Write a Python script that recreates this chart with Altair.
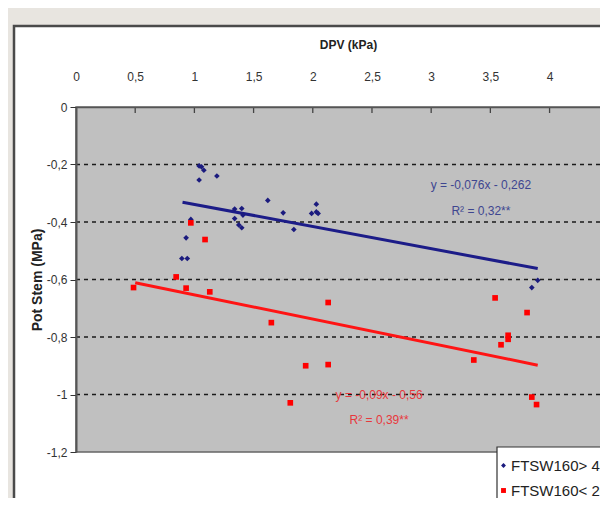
import altair as alt
import pandas as pd

# ---- data ----
series = ["FTSW160> 40%", "FTSW160< 20%"]
point_colors = ["#1b1b7e", "#ff0000"]
line_colors = ["#1c1c88", "#ff1414"]
text_colors = ["#3e4690", "#e8383c"]
point_shapes = ["diamond", "square"]

blue_x = [1.04, 1.06, 1.08, 1.04, 1.19, 1.62, 2.03, 1.34, 1.40, 1.34, 1.375, 1.40,
          1.41, 1.75, 1.84, 1.99, 2.03, 2.045, 0.97, 0.93, 0.894, 0.94, 3.90, 3.85]
blue_y = [-0.205, -0.208, -0.22, -0.254, -0.24, -0.325, -0.338, -0.355, -0.353, -0.388, -0.41, -0.42,
          -0.376, -0.368, -0.426, -0.37, -0.365, -0.37, -0.391, -0.455, -0.527, -0.527, -0.603, -0.628]

red_x = [0.97, 1.09, 0.846, 0.486, 0.93, 1.13, 2.13, 1.65, 1.94, 2.13, 1.81,
         3.54, 3.81, 3.65, 3.65, 3.59, 3.36, 3.85, 3.89]
red_y = [-0.403, -0.461, -0.591, -0.628, -0.63, -0.643, -0.68, -0.75, -0.90, -0.896, -1.029,
         -0.664, -0.715, -0.794, -0.808, -0.827, -0.88, -1.009, -1.035]

blue_line_x = [0.9, 3.9]
blue_line_y = [-0.331, -0.562]
red_line_x = [0.5, 3.9]
red_line_y = [-0.611, -0.898]

blue_eq_text = ["y = -0,076x - 0,262", "R² = 0,32**"]
blue_eq_x = [3.42, 3.42]
blue_eq_y = [-0.271, -0.362]
red_eq_text = ["y = -0,09x - 0,56", "R² = 0,39**"]
red_eq_x = [2.56, 2.56]
red_eq_y = [-1.0, -1.088]

x_ticks = [0, 0.5, 1, 1.5, 2, 2.5, 3, 3.5, 4]
top_ticks = [0.5, 1, 1.5, 2, 2.5, 3, 3.5, 4]
y_ticks = [0, -0.2, -0.4, -0.6, -0.8, -1.0, -1.2]
grid_y = [-0.2, -0.4, -0.6, -0.8, -1.0]
x_max = 4.426  # the reference plot area is cut at the right edge of the picture

FONT = "Liberation Sans Narrow, Liberation Sans, Arial"

# ---- tables ----
pts = pd.DataFrame({
    "x": blue_x + red_x,
    "y": blue_y + red_y,
    "series": [series[0]] * len(blue_x) + [series[1]] * len(red_x),
})
one = pd.DataFrame({"d": [0]})

xs = alt.Scale(domain=[0, x_max], nice=False, zero=False)
ys = alt.Scale(domain=[-1.2, 0], nice=False, zero=False)

x_axis = alt.Axis(orient="top", values=x_ticks, title="DPV (kPa)",
                  labelExpr="replace(toString(datum.value), '.', ',')",
                  tickSize=0, labelPadding=24, labelFontSize=12, labelColor="#333",
                  labelFont=FONT, titleFont=FONT, titleFontSize=12, titleFontWeight="bold",
                  titleColor="#222", titlePadding=19, domainColor="#555", domainWidth=1.5,
                  grid=False, zindex=1, labelFlush=False, labelOverlap=False, titleX=272)
y_axis = alt.Axis(orient="left", values=y_ticks, title="Pot Stem (MPa)",
                  labelExpr="replace(toString(datum.value), '.', ',')",
                  tickSize=6, tickColor="#333", labelPadding=3, labelFontSize=12,
                  labelColor="#333", labelFont=FONT, titleFont=FONT, titleFontSize=14,
                  titleFontWeight="bold", titleColor="#222", titlePadding=2,
                  domainColor="#555", domainWidth=2, grid=False, zindex=1,
                  labelFlush=False, labelOverlap=False)

frame = alt.Chart(one).mark_rect(fill="white", stroke="#4a4a4a", strokeWidth=2.5).encode(
    x=alt.value(-62), x2=alt.value(640), y=alt.value(-81), y2=alt.value(460))

plot_bg = alt.Chart(one).mark_rect(fill="#c0c0c0", stroke="#666", strokeWidth=1.5).encode(
    x=alt.value(0), x2=alt.value(560), y=alt.value(0), y2=alt.value("height"))

legend_box = alt.Chart(one).mark_rect(fill="white", stroke="#333", strokeWidth=1.2).encode(
    x=alt.value(421), x2=alt.value(700), y=alt.value(340), y2=alt.value(470))

grid = alt.Chart(pd.DataFrame({"y": grid_y})).mark_rule(
    color="#1a1a1a", strokeDash=[4, 4], strokeWidth=1.3).encode(
    y=alt.Y("y:Q", scale=ys, axis=y_axis))

ticks = alt.Chart(pd.DataFrame({"x": top_ticks})).mark_rule(color="#444", strokeWidth=1.3).encode(
    x=alt.X("x:Q", scale=xs, axis=x_axis), y=alt.value(0), y2=alt.value(6))

blue_line = alt.Chart(pd.DataFrame({"x": blue_line_x, "y": blue_line_y})).mark_line(
    color=line_colors[0], strokeWidth=3).encode(x=alt.X("x:Q", scale=xs), y=alt.Y("y:Q", scale=ys))
red_line = alt.Chart(pd.DataFrame({"x": red_line_x, "y": red_line_y})).mark_line(
    color=line_colors[1], strokeWidth=3).encode(x=alt.X("x:Q", scale=xs), y=alt.Y("y:Q", scale=ys))

points = alt.Chart(pts).mark_point(filled=True, opacity=1, size=32).encode(
    x=alt.X("x:Q", scale=xs),
    y=alt.Y("y:Q", scale=ys),
    color=alt.Color("series:N", scale=alt.Scale(domain=series, range=point_colors),
                    legend=alt.Legend(title=None, orient="none", legendX=420, legendY=351,
                                      padding=0, zindex=2,
                                      labelFontSize=15, labelFont=FONT, labelColor="#222",
                                      symbolSize=24, rowPadding=9, labelOffset=0,
                                      symbolStrokeWidth=0, labelLimit=300)),
    shape=alt.Shape("series:N", scale=alt.Scale(domain=series, range=point_shapes), legend=None),
)

blue_txt = alt.Chart(pd.DataFrame({"x": blue_eq_x, "y": blue_eq_y, "t": blue_eq_text})).mark_text(
    color=text_colors[0], fontSize=12, font=FONT).encode(
    x=alt.X("x:Q", scale=xs), y=alt.Y("y:Q", scale=ys), text="t:N")
red_txt = alt.Chart(pd.DataFrame({"x": red_eq_x, "y": red_eq_y, "t": red_eq_text})).mark_text(
    color=text_colors[1], fontSize=12, font=FONT).encode(
    x=alt.X("x:Q", scale=xs), y=alt.Y("y:Q", scale=ys), text="t:N")

chart = alt.layer(frame, plot_bg, legend_box, grid, ticks, blue_line, red_line, points,
                  blue_txt, red_txt).properties(
    width=524, height=345,
    padding={"left": 68, "top": 99, "right": 0, "bottom": 46},
    autosize=alt.AutoSizeParams(type="none"),
).configure(background="#e8e5e0").configure_view(stroke=None)

chart.save("out.html", embed_options={"renderer": "svg", "actions": False})
